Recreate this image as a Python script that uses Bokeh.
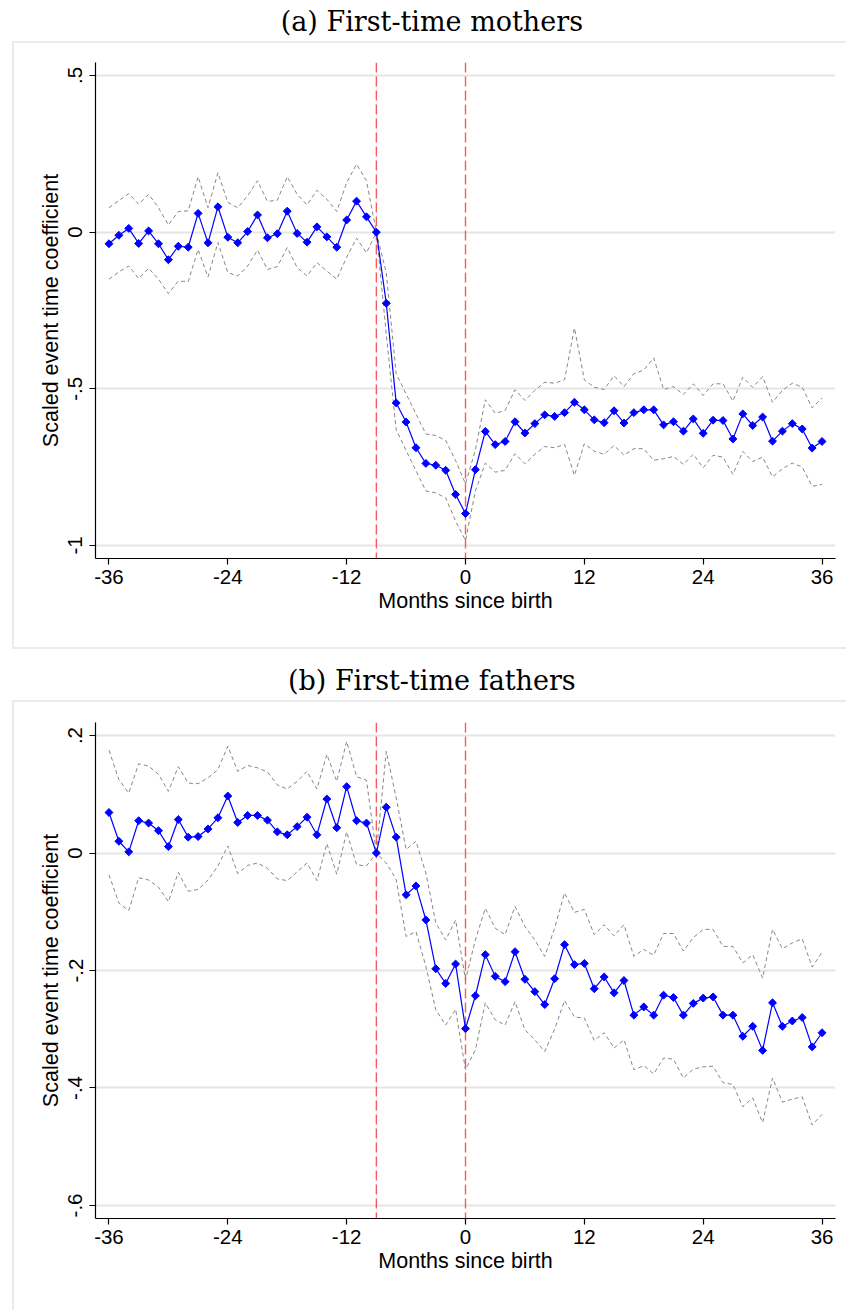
from bokeh.plotting import figure
from bokeh.models import ColumnDataSource, Range1d, FixedTicker, Span
from bokeh.layouts import column
from bokeh.core.properties import value
from bokeh.embed import file_html
from bokeh.resources import INLINE

months = list(range(-36, 37))

# (a) First-time mothers
mothers_coef = [
    -0.037, -0.010, 0.012, -0.036, 0.004, -0.037, -0.088, -0.045, -0.048, 0.060,
    -0.034, 0.081, -0.016, -0.034, 0.002, 0.055, -0.018, -0.005, 0.067, -0.004,
    -0.032, 0.017, -0.015, -0.048, 0.039, 0.099, 0.049, 0.0,
    -0.227, -0.545, -0.606, -0.688, -0.738, -0.744, -0.760, -0.837, -0.898,
    -0.758, -0.636, -0.678, -0.668, -0.605, -0.641, -0.611, -0.583, -0.588,
    -0.576, -0.543, -0.567, -0.599, -0.608, -0.570, -0.609, -0.576, -0.567,
    -0.567, -0.615, -0.605, -0.635, -0.596, -0.642, -0.600, -0.601, -0.660,
    -0.580, -0.617, -0.590, -0.667, -0.635, -0.611, -0.628, -0.689, -0.668,
]
mothers_hi = [
    0.078, 0.101, 0.123, 0.089, 0.121, 0.078, 0.023, 0.066, 0.068, 0.177,
    0.078, 0.190, 0.095, 0.078, 0.116, 0.164, 0.098, 0.102, 0.177, 0.121,
    0.087, 0.134, 0.105, 0.066, 0.158, 0.217, 0.164, 0.0,
    -0.130, -0.452, -0.516, -0.580, -0.644, -0.649, -0.665, -0.729, -0.803,
    -0.695, -0.535, -0.578, -0.569, -0.503, -0.537, -0.505, -0.479, -0.482,
    -0.471, -0.306, -0.471, -0.495, -0.502, -0.458, -0.493, -0.452, -0.440,
    -0.401, -0.502, -0.493, -0.518, -0.484, -0.521, -0.484, -0.484, -0.539,
    -0.463, -0.495, -0.461, -0.543, -0.505, -0.482, -0.495, -0.561, -0.529,
]
mothers_lo = [
    -0.150, -0.127, -0.108, -0.148, -0.115, -0.150, -0.196, -0.156, -0.158, -0.055,
    -0.143, -0.033, -0.129, -0.140, -0.108, -0.057, -0.119, -0.110, -0.049, -0.113,
    -0.140, -0.097, -0.124, -0.150, -0.080, -0.019, -0.066, 0.0,
    -0.325, -0.630, -0.697, -0.761, -0.826, -0.832, -0.848, -0.922, -0.984,
    -0.826, -0.737, -0.766, -0.760, -0.707, -0.739, -0.709, -0.684, -0.688,
    -0.677, -0.776, -0.675, -0.699, -0.709, -0.681, -0.712, -0.691, -0.691,
    -0.728, -0.723, -0.716, -0.741, -0.709, -0.752, -0.712, -0.718, -0.773,
    -0.700, -0.732, -0.718, -0.781, -0.755, -0.737, -0.750, -0.811, -0.805,
]

# (b) First-time fathers
fathers_coef = [
    0.069, 0.020, 0.002, 0.055, 0.051, 0.038, 0.011, 0.057, 0.027, 0.028,
    0.041, 0.060, 0.097, 0.052, 0.064, 0.064, 0.056, 0.036, 0.031, 0.045,
    0.061, 0.031, 0.092, 0.043, 0.113, 0.055, 0.051, 0.0,
    0.078, 0.027, -0.071, -0.056, -0.114, -0.197, -0.222, -0.189, -0.299,
    -0.243, -0.173, -0.210, -0.219, -0.168, -0.215, -0.236, -0.258, -0.214,
    -0.156, -0.190, -0.188, -0.231, -0.211, -0.238, -0.217, -0.276, -0.262,
    -0.276, -0.242, -0.246, -0.276, -0.256, -0.247, -0.245, -0.276, -0.276,
    -0.312, -0.295, -0.336, -0.255, -0.295, -0.286, -0.280, -0.330, -0.306,
]
fathers_hi = [
    0.175, 0.125, 0.102, 0.152, 0.148, 0.134, 0.105, 0.147, 0.119, 0.118,
    0.128, 0.142, 0.182, 0.139, 0.149, 0.145, 0.138, 0.116, 0.109, 0.122,
    0.139, 0.109, 0.168, 0.122, 0.190, 0.130, 0.124, 0.0,
    0.173, 0.094, 0.006, 0.020, -0.034, -0.119, -0.148, -0.114, -0.216,
    -0.148, -0.094, -0.128, -0.139, -0.091, -0.125, -0.148, -0.176, -0.128,
    -0.068, -0.101, -0.096, -0.139, -0.122, -0.141, -0.122, -0.176, -0.164,
    -0.174, -0.137, -0.137, -0.167, -0.144, -0.130, -0.130, -0.159, -0.159,
    -0.187, -0.173, -0.213, -0.130, -0.163, -0.153, -0.146, -0.194, -0.169,
]
fathers_lo = [
    -0.037, -0.085, -0.098, -0.042, -0.046, -0.058, -0.083, -0.033, -0.065, -0.062,
    -0.046, -0.022, 0.012, -0.035, -0.021, -0.017, -0.026, -0.044, -0.047, -0.032,
    -0.017, -0.047, 0.016, -0.036, 0.036, -0.020, -0.022, 0.0,
    -0.017, -0.045, -0.142, -0.134, -0.193, -0.267, -0.293, -0.266, -0.369,
    -0.335, -0.255, -0.284, -0.293, -0.253, -0.301, -0.318, -0.338, -0.300,
    -0.251, -0.279, -0.281, -0.319, -0.306, -0.332, -0.318, -0.369, -0.362,
    -0.376, -0.349, -0.351, -0.383, -0.368, -0.364, -0.363, -0.391, -0.394,
    -0.432, -0.417, -0.459, -0.383, -0.424, -0.419, -0.415, -0.463, -0.445,
]

x_ticks = [-36, -24, -12, 0, 12, 24, 36]
mothers_yticks = [0.5, 0.0, -0.5, -1.0]
mothers_ylabels = [".5", "0", "-.5", "-1"]
fathers_yticks = [0.2, 0.0, -0.2, -0.4, -0.6]
fathers_ylabels = [".2", "0", "-.2", "-.4", "-.6"]
event_lines = [-9, 0]

W = 848
SANS = "Liberation Sans"
BOX = "2px solid #ebebeb"


def title_fig(text, h):
    t = figure(width=W, height=h, x_range=Range1d(0, W), y_range=Range1d(0, h),
               x_axis_location=None, y_axis_location=None, title=None,
               toolbar_location=None, output_backend="svg", min_border=0)
    t.grid.visible = False
    t.outline_line_color = None
    # the glyph lands ~40px right / ~9px low of its anchor here, so compensate
    t.text(x=[394], y=[20.4], text=[text], text_align="center",
           text_baseline="alphabetic", text_font=value("DejaVu Serif"),
           text_font_size="27px", text_color="black")
    return t


def panel(coef, hi, lo, yr, yticks, ylabels, h, top, bottom, styles):
    src = ColumnDataSource(data=dict(m=months, c=coef, hi=hi, lo=lo))
    p = figure(width=W - 14, height=h, x_range=Range1d(-37.36, 37.36),
               y_range=Range1d(*yr), toolbar_location=None, output_backend="svg",
               min_border_left=81, min_border_right=13,
               min_border_top=top, min_border_bottom=bottom, styles=styles)
    p.outline_line_color = None
    p.xgrid.visible = False
    p.ygrid.grid_line_color = "#e6e6e6"
    p.ygrid.grid_line_width = 2

    p.xaxis.ticker = FixedTicker(ticks=x_ticks)
    p.xaxis.major_label_overrides = {t: str(t) for t in x_ticks}
    p.yaxis.ticker = FixedTicker(ticks=yticks)
    p.yaxis.major_label_overrides = dict(zip(yticks, ylabels))
    p.yaxis.major_label_orientation = "vertical"

    p.xaxis.axis_label = "Months since birth"
    p.yaxis.axis_label = "Scaled event time coefficient"
    for ax in p.axis:
        ax.axis_line_color = "black"
        ax.axis_line_width = 1.2
        ax.major_tick_out = 6
        ax.major_tick_in = 0
        ax.major_tick_line_width = 1.2
        ax.minor_tick_out = 0
        ax.minor_tick_in = 0
        ax.major_label_text_font = SANS
        ax.major_label_text_font_size = "20.5px"
        ax.major_label_text_color = "black"
        ax.axis_label_text_font = SANS
        ax.axis_label_text_font_size = "21.5px"
        ax.axis_label_text_font_style = "normal"
        ax.axis_label_text_color = "black"
    p.xaxis.major_label_standoff = 5
    p.xaxis.axis_label_standoff = 2
    p.yaxis.major_label_standoff = 7
    p.yaxis.axis_label_standoff = 3

    for xv in event_lines:
        p.add_layout(Span(location=xv, dimension="height", line_color="#f75a5a",
                          line_width=1.4, line_dash="10 4", level="underlay"))

    p.line("m", "hi", source=src, line_color="#878787", line_width=1, line_dash="4 3")
    p.line("m", "lo", source=src, line_color="#878787", line_width=1, line_dash="4 3")
    p.line("m", "c", source=src, line_color="#0000ff", line_width=1.2)
    # Stata-like diamonds: squares turned 45 degrees
    p.scatter("m", "c", source=src, marker="square", angle=0.7854, size=5.6,
              fill_color="#0000ff", line_color="#0000ff")
    return p


ta = title_fig("(a) First-time mothers", 41)
pa = panel(mothers_coef, mothers_hi, mothers_lo, (-1.0415, 0.5415),
           mothers_yticks, mothers_ylabels, 608, 19, 93,
           {"border-top": BOX, "border-left": BOX, "border-bottom": BOX,
            "margin-left": "12px"})
tb = title_fig("(b) First-time fathers", 51)
pb = panel(fathers_coef, fathers_hi, fathers_lo, (-0.6222, 0.2222),
           fathers_yticks, fathers_ylabels, 610, 20, 94,
           {"border-top": BOX, "border-left": BOX, "margin-left": "12px"})

layout = column(ta, pa, tb, pb)
open("out.html", "w").write(file_html(layout, INLINE))
